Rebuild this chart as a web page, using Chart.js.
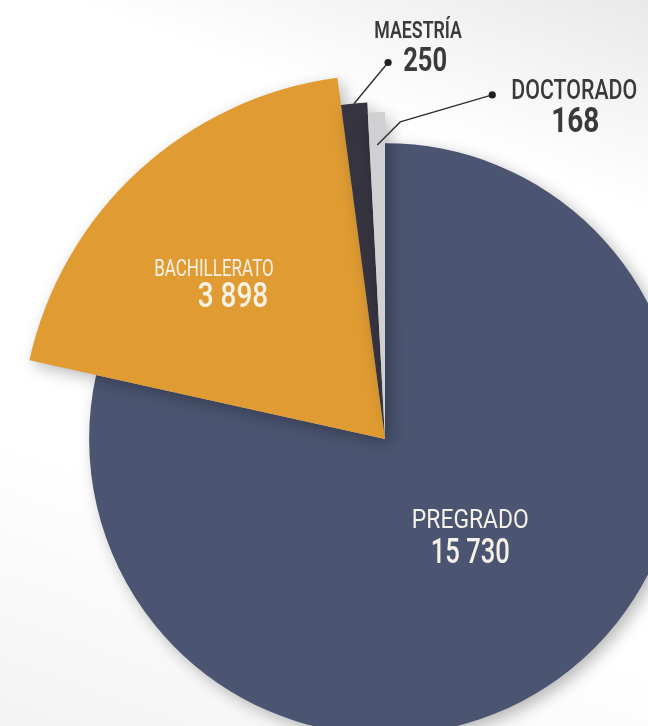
<!DOCTYPE html>
<html lang="es">
<head>
<meta charset="utf-8">
<title>Estudiantes por nivel</title>
<script src="https://cdn.jsdelivr.net/npm/chart.js@4.4.1/dist/chart.umd.min.js"></script>
<style>
  html, body {
    margin: 0;
    padding: 0;
  }
  body {
    width: 648px;
    height: 726px;
    overflow: hidden;
    background: linear-gradient(200deg, #e9e9e9 0%, #ffffff 22%, #ffffff 70%, #f3f3f3 100%);
  }
  #chart {
    display: block;
  }
</style>
</head>
<body>
<canvas id="chart" width="648" height="726"></canvas>
<script>
// Data
const levels = ['PREGRADO', 'BACHILLERATO', 'MAESTRÍA', 'DOCTORADO'];
const students = [15730, 3898, 250, 168];

// Styles
const sliceColors = ['#4b5571', '#e09c33', '#35343f', '#d0d0d2'];
const radiusScale = [1.125, 1.385, 1.281, 1.243];   // each slice sticks out by a different amount

const FONT = 'Roboto, "Noto Sans", sans-serif';
const INSIDE_COLOR = '#f6f2e8';
const OUTSIDE_COLOR = '#3a3a3c';

// inside labels: offsets from the slice's mid point (at r * base radius)
// each text: [dx, dy, font, horizontal squeeze]
const insideLabels = {
  0: { r: 0.5, name: [3, -20, '400 26px', 0.88], value: [3, 13, '500 35px', 0.73] },
  1: { r: 0.85, name: [-20, -4, '400 23px', 0.74], value: [-1, 24, '500 35px', 0.8] }
};

// outside callouts: anchor on the slice, then line points (last one gets a dot), texts relative to anchor
const callouts = {
  2: { r: 1.0, path: [[34, -41]], name: [64, -72, '600 24px', 0.74], value: [71, -41, '700 34px', 0.75] },
  3: { r: 0.9, path: [[23, -23], [115, -50]], name: [197, -53, '500 27px', 0.79], value: [198, -22, '700 35px', 0.8] }
};

function formatNumber(v) {
  return String(v).replace(/\B(?=(\d{3})+(?!\d))/g, ' ');
}

function squeezedText(ctx, text, x, y, spec, color) {
  ctx.save();
  ctx.font = spec[2] + ' ' + FONT;
  ctx.fillStyle = color;
  ctx.textAlign = 'center';
  ctx.textBaseline = 'middle';
  ctx.translate(x + spec[0], y + spec[1]);
  ctx.scale(spec[3], 1);
  ctx.fillText(text, 0, 0);
  ctx.restore();
}

function pointOnArc(arc, r) {
  const mid = (arc.startAngle + arc.endAngle) / 2;
  return { x: arc.x + Math.cos(mid) * r, y: arc.y + Math.sin(mid) * r };
}

const explodePlugin = {
  id: 'explode',
  afterDatasetUpdate(chart, args) {
    const meta = chart.getDatasetMeta(args.index);
    meta.data.forEach((arc, i) => {
      arc.outerRadius = arc.outerRadius * radiusScale[i];
    });
  },
  beforeDatasetDraw(chart) {
    const ctx = chart.ctx;
    ctx.save();
    ctx.shadowColor = 'rgba(0, 0, 0, 0.28)';
    ctx.shadowBlur = 16;
    ctx.shadowOffsetX = 5;
    ctx.shadowOffsetY = 5;
  },
  afterDatasetDraw(chart) {
    chart.ctx.restore();
  }
};

const labelPlugin = {
  id: 'sliceLabels',
  afterDatasetsDraw(chart) {
    const ctx = chart.ctx;
    const meta = chart.getDatasetMeta(0);
    const base = meta.data[0].outerRadius / radiusScale[0];

    Object.keys(insideLabels).forEach(key => {
      const i = Number(key);
      const cfg = insideLabels[i];
      const p = pointOnArc(meta.data[i], base * cfg.r);
      squeezedText(ctx, levels[i], p.x, p.y, cfg.name, INSIDE_COLOR);
      squeezedText(ctx, formatNumber(students[i]), p.x, p.y, cfg.value, INSIDE_COLOR);
    });

    Object.keys(callouts).forEach(key => {
      const i = Number(key);
      const cfg = callouts[i];
      const arc = meta.data[i];
      const a = pointOnArc(arc, arc.outerRadius * cfg.r);
      ctx.save();
      ctx.strokeStyle = '#2f2f33';
      ctx.lineWidth = 1.4;
      ctx.beginPath();
      ctx.moveTo(a.x, a.y);
      cfg.path.forEach(pt => ctx.lineTo(a.x + pt[0], a.y + pt[1]));
      ctx.stroke();
      const end = cfg.path[cfg.path.length - 1];
      ctx.fillStyle = '#1f1f22';
      ctx.beginPath();
      ctx.arc(a.x + end[0], a.y + end[1], 3.6, 0, Math.PI * 2);
      ctx.fill();
      ctx.restore();
      squeezedText(ctx, levels[i], a.x, a.y, cfg.name, OUTSIDE_COLOR);
      squeezedText(ctx, formatNumber(students[i]), a.x, a.y, cfg.value, OUTSIDE_COLOR);
    });
  }
};

new Chart(document.getElementById('chart'), {
  type: 'pie',
  data: {
    labels: levels,
    datasets: [{
      data: students,
      backgroundColor: sliceColors,
      borderWidth: 0,
      clip: false
    }]
  },
  options: {
    responsive: false,
    animation: false,
    rotation: 0,
    layout: {
      padding: { left: 122, top: 152, right: 0, bottom: 0 }
    },
    plugins: {
      legend: { display: false },
      tooltip: { enabled: false }
    }
  },
  plugins: [explodePlugin, labelPlugin]
});
</script>
</body>
</html>
